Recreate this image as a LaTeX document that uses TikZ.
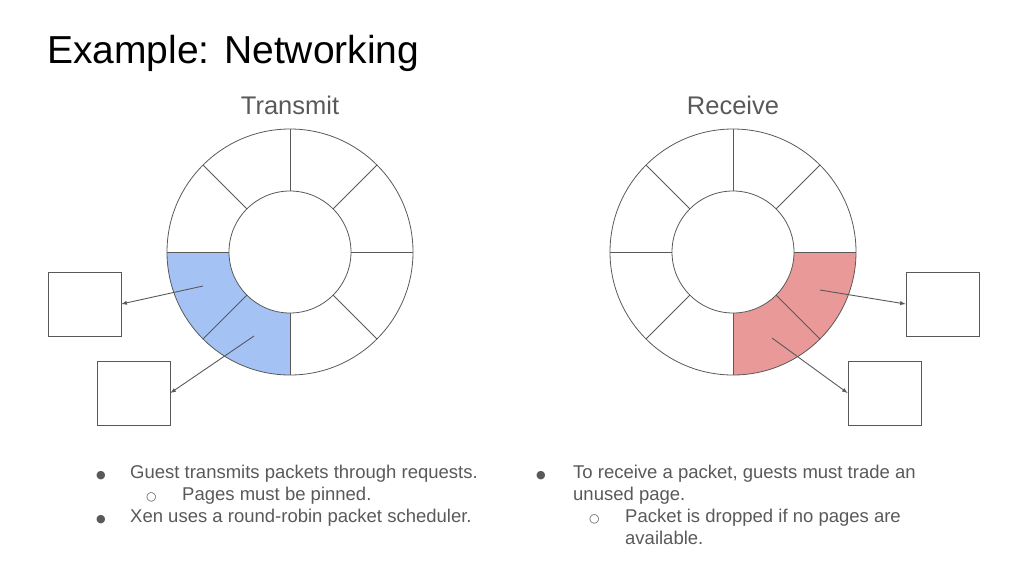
\documentclass[tikz,border=0pt]{standalone}
\usepackage{fontspec}
\usetikzlibrary{calc}
\setmainfont{Liberation Sans}
\newfontfamily\dvs{DejaVu Sans}
\definecolor{ln}{HTML}{595959}
\definecolor{tx}{HTML}{595959}
\definecolor{bl}{HTML}{A4C2F4}
\definecolor{rd}{HTML}{EA9999}
\begin{document}
\begin{tikzpicture}[x=1pt,y=-1pt,
  ringline/.style={draw=ln,line width=0.8pt},
  boxn/.style={draw=ln,line width=0.8pt,minimum width=73pt,minimum height=64pt,inner sep=0pt},
  arr/.style={draw=ln,line width=0.9pt,-latex},
  bt/.style={anchor=base west,text=tx,font=\fontsize{18.5}{22}\selectfont,inner sep=0pt}]
\useasboundingbox (0,0) rectangle (1024,576);
\node[anchor=base west,inner sep=0pt,font=\fontsize{39}{44}\selectfont] (title) at (47,63) {Example: Networking};
\node[text=tx,font=\fontsize{25.5}{30}\selectfont] (tl) at (290,105) {Transmit};
\node[text=tx,font=\fontsize{25.5}{30}\selectfont] (rl) at (733,105) {Receive};
% transmit ring
\coordinate (tc) at (290,252);
\fill[bl] ($(tc)+(90:123)$) arc (90:180:123) -- ($(tc)+(180:61)$) arc (180:90:61) -- cycle;
\draw[ringline] (tc) circle (123);
\draw[ringline,fill=white] (tc) circle (61);
\foreach \a in {0,45,...,315} \draw[ringline] ($(tc)+(\a:61)$) -- ($(tc)+(\a:123)$);
% receive ring
\coordinate (rc) at (733,252);
\fill[rd] ($(rc)+(0:123)$) arc (0:90:123) -- ($(rc)+(90:61)$) arc (90:0:61) -- cycle;
\draw[ringline] (rc) circle (123);
\draw[ringline,fill=white] (rc) circle (61);
\foreach \a in {0,45,...,315} \draw[ringline] ($(rc)+(\a:61)$) -- ($(rc)+(\a:123)$);
% boxes
\node[boxn] (b1) at (84.5,304) {};
\node[boxn] (b2) at (133.5,393) {};
\node[boxn] (b3) at (942.5,304) {};
\node[boxn] (b4) at (884.5,393) {};
\coordinate (s1) at (203,286);
\coordinate (s2) at (254,336);
\coordinate (s3) at (820,290);
\coordinate (s4) at (772,338);
\draw[arr] (s1) -- (b1.east);
\draw[arr] (s2) -- (b2.east);
\draw[arr] (s3) -- (b3.west);
\draw[arr] (s4) -- (b4.west);
% bullets left
\node[bt] (l1b) at (96,478) {\dvs\fontsize{11}{12}\selectfont ●};
\node[bt] (l1) at (130,478) {Guest transmits packets through requests.};
\node[bt] (l2b) at (146,500) {\dvs\fontsize{12}{12}\selectfont ○};
\node[bt] (l2) at (182,500) {Pages must be pinned.};
\node[bt] (l3b) at (96,522) {\dvs\fontsize{11}{12}\selectfont ●};
\node[bt] (l3) at (130,522) {Xen uses a round-robin packet scheduler.};
% bullets right
\node[bt] (r1b) at (536,478) {\dvs\fontsize{11}{12}\selectfont ●};
\node[bt] (r1) at (573,478) {To receive a packet, guests must trade an};
\node[bt] (r1c) at (573,500) {unused page.};
\node[bt] (r2b) at (589,522) {\dvs\fontsize{12}{12}\selectfont ○};
\node[bt] (r2) at (625,522) {Packet is dropped if no pages are};
\node[bt] (r2c) at (625,544) {available.};
\end{tikzpicture}
\end{document}
